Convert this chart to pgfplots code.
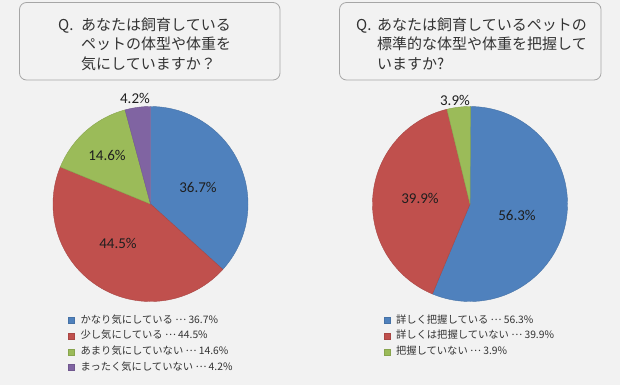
\documentclass[border=0pt]{standalone}
\usepackage{pgfplots}
\pgfplotsset{compat=1.18}
\usepackage{fontspec}
\setmainfont{Noto Sans CJK JP}
\newfontfamily\lblfont{Carlito}
\definecolor{bg}{HTML}{F2F2F2}
\definecolor{cblue}{HTML}{4F81BD}
\definecolor{cred}{HTML}{C0504D}
\definecolor{cgreen}{HTML}{9BBB59}
\definecolor{cpurple}{HTML}{8064A2}
\definecolor{boxline}{HTML}{A6A6A6}
\definecolor{txt}{HTML}{333333}
\newcommand\dd{\raisebox{0.3em}{…}}
\pgfplotsset{
  piestyle/.style={hide axis, scale only axis, width=195bp, height=195bp,
    xmin=-1, xmax=1, ymin=-1, ymax=1, clip=false, anchor=center,
    legend cell align=left,
    legend image code/.code={\fill[##1] (0bp,-3bp) rectangle (6bp,3bp);},
    legend style={draw=none, fill=none, anchor=north west, inner sep=0pt,
      font=\fontsize{10.3bp}{12bp}\selectfont, text=txt,
      nodes={inner sep=0pt, text height=8bp, text depth=2.5bp},
      row sep=5.2bp, column sep=6bp},
  },
  slice/.style={draw=#1!88!black, fill=#1, line width=0.4bp, samples=80},
}
\tikzset{plbl/.style={font=\lblfont\fontsize{15bp}{16bp}\selectfont, text=black!88, inner sep=0pt}}
\begin{document}
\begin{tikzpicture}[x=1bp,y=-1bp]
\useasboundingbox (0,0) rectangle (620,385);
\fill[bg] (0,0) rectangle (620,385);
% title boxes
\draw[boxline, line width=0.8bp, rounded corners=7bp] (19.5,2.5) rectangle (280,80);
\draw[boxline, line width=0.8bp, rounded corners=7bp] (339.5,2.5) rectangle (601,80);
\begin{scope}[every node/.style={anchor=base west, inner sep=0pt, text=txt, font=\fontsize{15bp}{18bp}\selectfont}]
\node at (58,30) {Q.};
\node at (81,30) {あなたは飼育している};
\node at (81,49.5) {ペットの体型や体重を};
\node at (81,69) {気にしていますか？};
\node at (356,30) {Q.};
\node at (377,30) {あなたは飼育しているペットの};
\node at (377,49.5) {標準的な体型や体重を把握して};
\node at (377,69) {いますか?};
\end{scope}
% angles from data
\pgfmathsetmacro\La{90}
\pgfmathsetmacro\Lb{\La-3.6*36.7}
\pgfmathsetmacro\Lc{\Lb-3.6*44.5}
\pgfmathsetmacro\Ld{\Lc-3.6*14.6}
\pgfmathsetmacro\Le{\Ld-3.6*4.2}
\pgfmathsetmacro\Ra{90}
\pgfmathsetmacro\Rb{\Ra-3.6*56.3}
\pgfmathsetmacro\Rc{\Rb-3.6*39.9}
\pgfmathsetmacro\Rd{\Rc-3.6*3.9}
\begin{axis}[piestyle, at={(150.5bp,-204bp)}, legend style={at={(0.077,-0.069)}}]
\addplot[slice=cblue, domain=\Lb:\La] ({cos(x)},{sin(x)}) -- (axis cs:0,0) -- cycle;
\addlegendentry{かなり気にしている \dd\ 36.7\%}
\addplot[slice=cred, domain=\Lc:\Lb] ({cos(x)},{sin(x)}) -- (axis cs:0,0) -- cycle;
\addlegendentry{少し気にしている \dd\ 44.5\%}
\addplot[slice=cgreen, domain=\Ld:\Lc] ({cos(x)},{sin(x)}) -- (axis cs:0,0) -- cycle;
\addlegendentry{あまり気にしていない \dd\ 14.6\%}
\addplot[slice=cpurple, domain=\Le:\Ld] ({cos(x)},{sin(x)}) -- (axis cs:0,0) -- cycle;
\addlegendentry{まったく気にしていない \dd\ 4.2\%}
\node[plbl] at (axis cs:0.487,0.174) {36.7\%};
\node[plbl] at (axis cs:-0.333,-0.40) {44.5\%};
\node[plbl] at (axis cs:-0.446,0.503) {14.6\%};
\node[plbl] at (axis cs:-0.159,1.087) {4.2\%};
\end{axis}
\begin{axis}[piestyle, at={(470bp,-204bp)}, legend style={at={(0.056,-0.069)}}]
\addplot[slice=cblue, domain=\Rb:\Ra] ({cos(x)},{sin(x)}) -- (axis cs:0,0) -- cycle;
\addlegendentry{詳しく把握している \dd\ 56.3\%}
\addplot[slice=cred, domain=\Rc:\Rb] ({cos(x)},{sin(x)}) -- (axis cs:0,0) -- cycle;
\addlegendentry{詳しくは把握していない \dd\ 39.9\%}
\addplot[slice=cgreen, domain=\Rd:\Rc] ({cos(x)},{sin(x)}) -- (axis cs:0,0) -- cycle;
\addlegendentry{把握していない \dd\ 3.9\%}
\node[plbl] at (axis cs:0.482,-0.113) {56.3\%};
\node[plbl] at (axis cs:-0.513,0.062) {39.9\%};
\node[plbl] at (axis cs:-0.154,1.067) {3.9\%};
\end{axis}
\end{tikzpicture}
\end{document}
